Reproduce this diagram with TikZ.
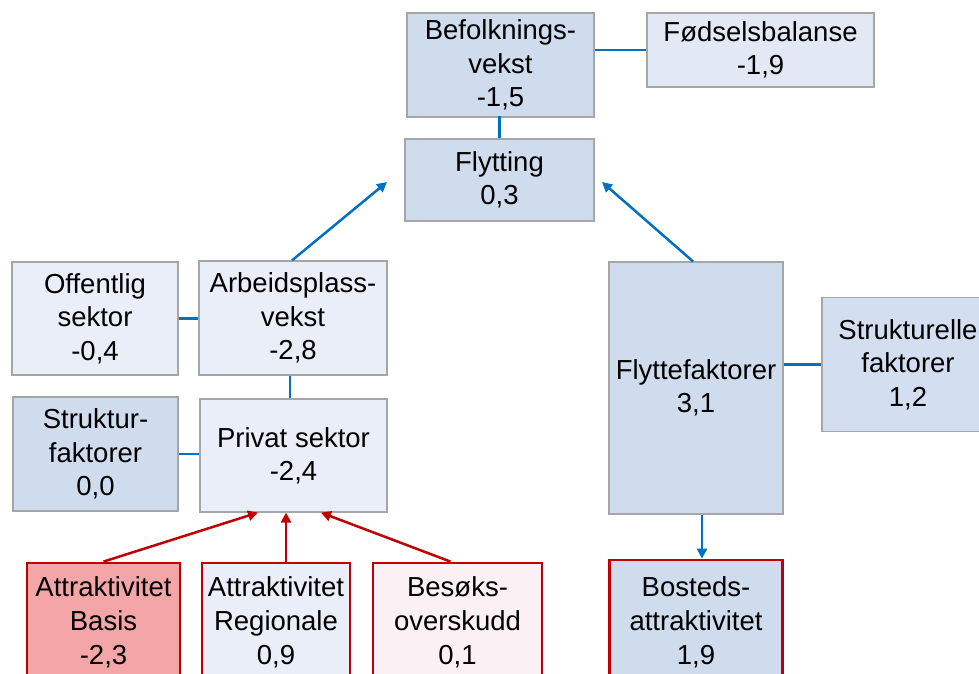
\documentclass[tikz,border=0pt]{standalone}
\usepackage{fontspec}
\setmainfont{Liberation Sans}
\usetikzlibrary{arrows.meta}
\definecolor{medblue}{HTML}{CFDCEE}
\definecolor{ltblue}{HTML}{E9EEF8}
\definecolor{fodblue}{HTML}{E2E9F5}
\definecolor{strblue}{HTML}{D3DFF0}
\definecolor{pinkred}{HTML}{F4A5A8}
\definecolor{palepink}{HTML}{FBF0F3}
\definecolor{redline}{HTML}{C00000}
\definecolor{blueline}{HTML}{0070C0}
\definecolor{grayline}{HTML}{A6A6A6}
\tikzset{
  box/.style={draw=grayline, line width=1.2pt, inner sep=0pt, align=center,
    font=\fontsize{27.5}{33.3}\selectfont},
  redbox/.style={draw=redline, line width=2.8pt, inner sep=0pt, align=center,
    font=\fontsize{27.5}{34}\selectfont},
  bl/.style={draw=blueline, line width=2.5pt},
  blarrow/.style={bl, -{Triangle[length=10pt,width=10pt]}},
  redarrow/.style={draw=redline, line width=2.5pt, -{Triangle[length=10pt,width=10pt]}}
}
\begin{document}
\begin{tikzpicture}[x=1pt,y=-1pt]
\useasboundingbox (0,0) rectangle (979,674);
\clip (0,0) rectangle (979,674);
% top
\node[box, fill=medblue, minimum width=187, minimum height=104] (bef) at (500.5,65) {Befolknings-\\vekst\\-1,5};
\node[box, fill=fodblue, minimum width=227, minimum height=74] (fod) at (760.5,50) {Fødselsbalanse\\-1,9};
\node[box, fill=medblue, minimum width=189, minimum height=82] (fly) at (499.5,180) {Flytting\\0,3};
% left
\node[box, fill=ltblue, minimum width=166, minimum height=113] (off) at (95,318.5) {Offentlig\\sektor\\-0,4};
\node[box, fill=ltblue, minimum width=188, minimum height=114] (arb) at (293,318) {Arbeidsplass-\\vekst\\-2,8};
\node[box, fill=medblue, minimum width=165, minimum height=114] (stf) at (95.5,454) {Struktur-\\faktorer\\0,0};
\node[box, fill=ltblue, minimum width=187, minimum height=113] (pri) at (293.5,455.5) {Privat sektor\\-2,4};
% right
\node[box, fill=medblue, minimum width=174, minimum height=252] (flf) at (696,388) {Flyttefaktorer\\3,1};
\node[box, fill=strblue, minimum width=172, minimum height=134] (stl) at (908,364.5) {Strukturelle\\faktorer\\1,2};
% bottom
\node[redbox, fill=pinkred, minimum width=153, minimum height=118] (bas) at (103.5,622) {Attraktivitet\\Basis\\-2,3};
\node[redbox, fill=ltblue, minimum width=148, minimum height=118] (reg) at (276,622) {Attraktivitet\\Regionale\\0,9};
\node[redbox, fill=palepink, minimum width=169, minimum height=118] (bes) at (457.5,622) {Besøks-\\overskudd\\0,1};
\node[redbox, fill=medblue, minimum width=173, minimum height=124] (bos) at (696,622) {Bosteds-\\attraktivitet\\1,9};
% connectors
\coordinate (tipL) at (387,182);
\coordinate (tipR) at (602,182);
\draw[bl] (bef.east |- fod.west) -- (fod.west);
\draw[bl] (bef.south) -- (fly.north |- bef.south) -- (fly.north);
\draw[blarrow] ([xshift=-1pt]arb.north) -- (tipL);
\draw[blarrow] ([xshift=-3pt]flf.north) -- (tipR);
\draw[bl] (off.east) -- (arb.west |- off.east);
\draw[bl] ([xshift=-3pt]arb.south) -- ([xshift=-3.5pt]pri.north);
\draw[bl] (stf.east) -- (pri.west |- stf.east);
\draw[bl] (flf.east |- stl.west) -- (stl.west);
\draw[blarrow] ([xshift=6pt]flf.south) -- ([xshift=6pt]bos.north);
\draw[redarrow] (bas.north) -- ([xshift=-35.5pt]pri.south);
\draw[redarrow] ([xshift=10pt]reg.north) -- ([xshift=-7.5pt]pri.south);
\draw[redarrow] ([xshift=-7pt]bes.north) -- ([xshift=27.5pt]pri.south);
\end{tikzpicture}
\end{document}
